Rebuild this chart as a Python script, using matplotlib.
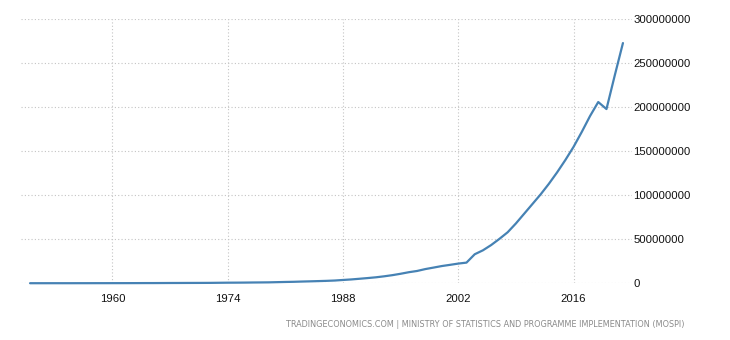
import numpy as np
import matplotlib
matplotlib.use("Agg")
import matplotlib.pyplot as plt

# India GDP at current prices, INR million (annual)
years = list(range(1950, 2023))
gdp = [
    104010, 105000, 102000, 112000, 104000, 109000, 128000, 131000, 146000, 153000,   # 1950-59
    170000, 179000, 192000, 220000, 255000, 260000, 298000, 345000, 362000, 397000,   # 1960-69
    422000, 449000, 494000, 599000, 700000, 738000, 801000, 913000, 989000, 1079000,  # 1970-79
    1302000, 1521000, 1695000, 1986000, 2227000, 2495000, 2783000, 3150000, 3780000, 4380000,  # 1980-89
    5150000, 5950000, 6820000, 7940000, 9250000, 10830000, 12610000, 14010000, 16160000, 17860000,  # 1990-99
    19600000, 20970000, 22400000, 23500000, 33000000, 37500000, 43500000, 50500000, 58000000, 68000000,  # 2000-09
    79000000, 90000000, 101000000, 113000000, 126000000, 140000000, 155000000, 172000000, 190000000, 206000000,  # 2010-19
    198000000, 236000000, 273000000,  # 2020-22
]

xticks = [1960, 1974, 1988, 2002, 2016]
yticks = [0, 50000000, 100000000, 150000000, 200000000, 250000000, 300000000]
source_text = "TRADINGECONOMICS.COM | MINISTRY OF STATISTICS AND PROGRAMME IMPLEMENTATION (MOSPI)"

fig = plt.figure(figsize=(7.3, 3.4), dpi=100)
ax = fig.add_axes([21 / 730, 1 - 283.3 / 340, (632 - 21) / 730, (283.3 - 19.3) / 340])

ax.plot(years, gdp, color="#4682b4", linewidth=1.6, solid_capstyle="round",
        solid_joinstyle="round", clip_on=False, zorder=3)

ax.set_xlim(1948.9, 2023.1)
ax.set_ylim(0, 300000000)

ax.set_xticks(xticks)
ax.set_xticklabels([str(y) for y in xticks])
ax.set_yticks(yticks)
ax.set_yticklabels([str(v) for v in yticks])
ax.yaxis.tick_right()

for s in ax.spines.values():
    s.set_visible(False)

ax.tick_params(axis="both", length=0, labelsize=8.2, labelcolor="#111111")
ax.tick_params(axis="x", pad=8)
ax.tick_params(axis="y", pad=1)
for lbl in ax.get_xticklabels() + ax.get_yticklabels():
    lbl.set_family(["Liberation Sans", "DejaVu Sans"])

ax.grid(True, color="#c4c4c4", linestyle=(0, (1, 2)), linewidth=0.8)
ax.set_axisbelow(True)

fig.text(685 / 730, 1 - 324.5 / 340, source_text, ha="right", va="center",
         fontsize=5.85, color="#8a8a8a", family=["DejaVu Sans"])

fig.savefig("out.png", dpi=100)
